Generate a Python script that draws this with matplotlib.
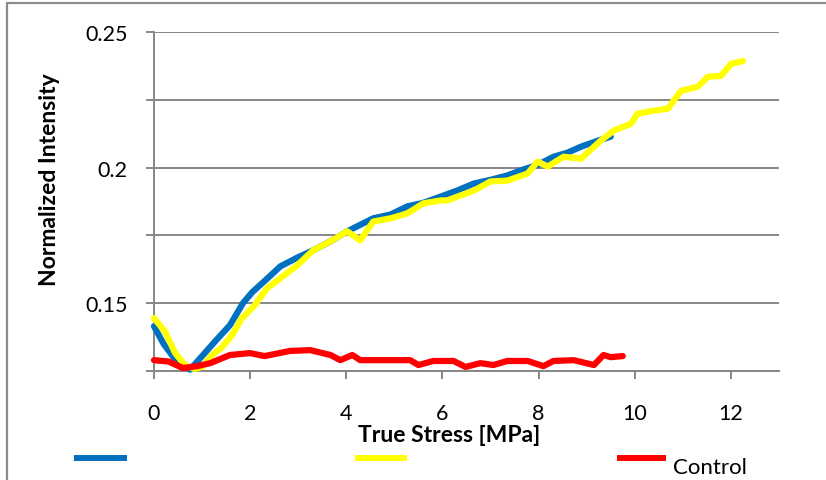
import matplotlib
matplotlib.use("Agg")
import matplotlib.pyplot as plt
from matplotlib.lines import Line2D
from matplotlib.ticker import MultipleLocator, FuncFormatter

plt.rcParams['font.family'] = ['Lato', 'DejaVu Sans']

# Stress [MPa] and normalized intensity for each sample
stress_blue = [0, 0.2, 0.45, 0.75, 1.0, 1.3, 1.58, 1.85, 2.04, 2.35, 2.63, 2.98,
               3.31, 3.67, 4.02, 4.3, 4.56, 4.92, 5.27, 5.6, 5.96, 6.3, 6.65, 7.0,
               7.35, 7.63, 7.98, 8.31, 8.6, 8.88, 9.23, 9.5]
intensity_blue = [0.1415, 0.135, 0.129, 0.1255, 0.1305, 0.1365, 0.1419, 0.150,
                  0.1540, 0.1590, 0.1636, 0.1668, 0.1695, 0.1728, 0.1765, 0.1790,
                  0.1813, 0.1827, 0.1857, 0.1870, 0.1893, 0.1915, 0.1941, 0.1955,
                  0.1971, 0.1990, 0.2010, 0.2040, 0.2055, 0.2077, 0.2099, 0.2114]

stress_yellow = [0, 0.23, 0.44, 0.65, 0.85, 1.0, 1.21, 1.4, 1.625, 1.83, 2.1, 2.35,
                 2.63, 2.98, 3.31, 3.67, 4.02, 4.29, 4.56, 4.92, 5.27, 5.6, 5.96,
                 6.1, 6.65, 7.0, 7.35, 7.77, 7.98, 8.19, 8.52, 8.88, 9.29, 9.56,
                 9.92, 10.06, 10.4, 10.69, 10.96, 11.31, 11.52, 11.79, 12.0, 12.25]
intensity_yellow = [0.1445, 0.1395, 0.1316, 0.127, 0.1258, 0.1265, 0.1309, 0.1335,
                    0.1382, 0.1445, 0.1493, 0.1555, 0.1592, 0.1640, 0.1695, 0.1728,
                    0.1765, 0.1732, 0.1801, 0.1813, 0.1831, 0.1868, 0.1879, 0.1879,
                    0.1915, 0.1949, 0.1952, 0.1978, 0.2022, 0.2004, 0.2040, 0.2033,
                    0.2099, 0.2136, 0.2162, 0.2199, 0.2210, 0.2217, 0.2283, 0.2298,
                    0.2335, 0.2338, 0.2382, 0.2393]

stress_control = [0, 0.3, 0.6, 0.9, 1.17, 1.58, 2.0, 2.3, 2.83, 3.25, 3.67, 3.875,
                  4.125, 4.29, 4.92, 5.33, 5.5, 5.81, 6.23, 6.48, 6.79, 7.06, 7.35,
                  7.77, 8.1, 8.31, 8.73, 9.15, 9.35, 9.5, 9.75]
intensity_control = [0.1290, 0.1285, 0.1261, 0.1268, 0.1279, 0.1309, 0.1316, 0.1305,
                     0.1324, 0.1327, 0.1309, 0.1290, 0.1309, 0.1290, 0.1290, 0.1290,
                     0.1272, 0.1287, 0.1287, 0.1265, 0.1279, 0.1272, 0.1287, 0.1287,
                     0.1268, 0.1287, 0.1290, 0.1272, 0.1309, 0.1301, 0.1305]

labels = ["", "", "Control"]
colors = ["#0070C0", "#FFFF00", "#FF0000"]
x_ticks = [0, 2, 4, 6, 8, 10, 12]
y_labelled = [0.15, 0.2, 0.25]

W, H = 826, 481
fig = plt.figure(figsize=(W / 100, H / 100), dpi=100)
ax = fig.add_axes([154 / W, 1 - 372 / H, 625 / W, 339 / H])

grid_col = "#878787"
series = [(stress_blue, intensity_blue), (stress_yellow, intensity_yellow),
          (stress_control, intensity_control)]
for (xs, ys), c in zip(series, colors):
    ax.plot(xs, ys, color=c, lw=4.5, solid_joinstyle='round',
            solid_capstyle='round', clip_on=False, zorder=3)

ax.set_xlim(0, 13)
ax.set_ylim(0.125, 0.25)
ax.set_xticks(x_ticks)
ax.yaxis.set_major_locator(MultipleLocator(0.025))


def ylab(v, pos):
    for t in y_labelled:
        if abs(v - t) < 1e-6:
            return "%g" % t
    return ""


ax.yaxis.set_major_formatter(FuncFormatter(ylab))
ax.grid(axis='y', color=grid_col, lw=1.4)
ax.set_axisbelow(True)
for s in ['top', 'right']:
    ax.spines[s].set_visible(False)
for s in ['left', 'bottom']:
    ax.spines[s].set_color(grid_col)
    ax.spines[s].set_linewidth(1.4)
ax.tick_params(axis='y', direction='out', length=6, width=1.4, color=grid_col,
               pad=13, labelsize=15.5)
ax.tick_params(axis='x', direction='out', length=6, width=1.4, color=grid_col,
               pad=17, labelsize=15.5)

ax.set_xlabel("True Stress [MPa]", fontsize=16.5, fontweight='bold', va='center')
ax.xaxis.set_label_coords((449 - 154) / 625, (372 - 435) / 339)
ax.set_ylabel("Normalized Intensity", fontsize=16.5, fontweight='bold', va='center')
ax.yaxis.set_label_coords((50 - 154) / 625, (372 - 180) / 339)

# legend drawn below the plot
legend_x = [(74, 127), (355, 407), (617, 666)]
for (x0, x1), c, lab in zip(legend_x, colors, labels):
    fig.add_artist(Line2D([x0 / W, x1 / W], [1 - 459 / H, 1 - 459 / H],
                          color=c, lw=4.3, solid_capstyle='butt'))
    if lab:
        fig.text((x1 + 7) / W, 1 - 468 / H, lab, fontsize=16, va='center')

# chart border
fig.add_artist(Line2D([7 / W, 7 / W, 1.0], [0, 1 - 4 / H, 1 - 4 / H],
                      color="#8c8c8c", lw=1.6))

fig.savefig("out.png", dpi=100)
